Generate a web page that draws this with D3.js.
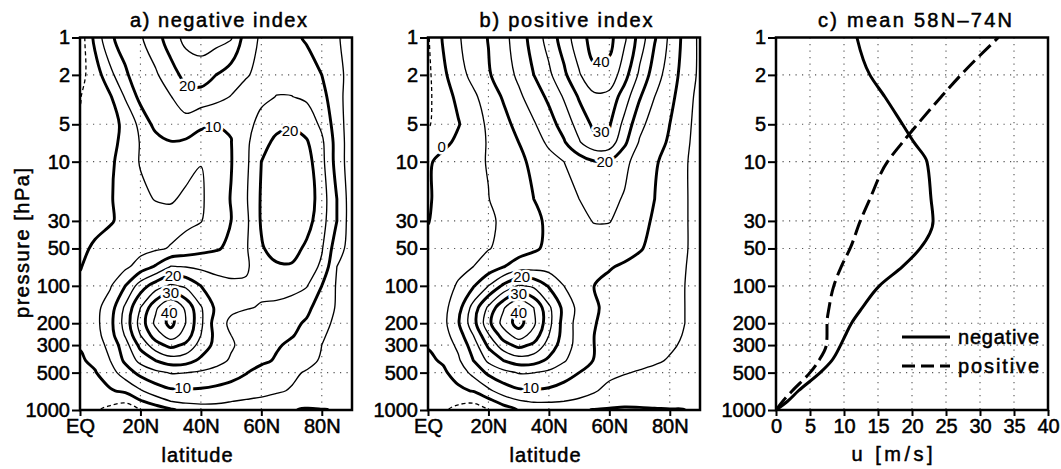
<!DOCTYPE html>
<html>
<head>
<meta charset="utf-8">
<script src="https://cdn.jsdelivr.net/npm/d3@7/dist/d3.min.js"></script>
<style>
html,body{margin:0;padding:0;background:#fff;}
svg text{font-family:"Liberation Sans",Arial,Helvetica,sans-serif;fill:#000;}
</style>
</head>
<body>
<svg id="chart" width="1061" height="469" viewBox="0 0 1061 469"></svg>
<script>
// ---------------- data ----------------
const latitudes = [0,5,10,15,20,25,30,35,40,45,50,55,60,65,70,75,80,85,90];
const pressureLevels = [1000,850,700,500,400,300,250,200,150,100,70,50,30,20,10,7,5,3,2,1];

// zonal-mean zonal wind [m/s], one row per pressure level (1000 hPa first), one column per latitude
const uNegativeIndex = [
  [-3,-4.5,-6,-7,-5.3,-3,-0.7,1.5,2.5,3,3,2.5,2,1,0.5,-0.8,-0.3,0.4,1],
  [-2,-3,-4,-4.5,-0.5,2.5,5,6,6.2,5.8,5.1,4.5,4,3.5,3,3,3,3,2.5],
  [-2.5,-2,-0.5,1,4.5,7.5,9.3,9.4,9.3,8.7,8,7.3,6.5,5.5,4.7,4.2,3.5,3.2,3],
  [-1.2,-0.3,3,7.5,11.5,13.8,15.3,15.1,14.3,13.5,12,10.2,8.2,6.9,5.8,4.6,4,3.5,3],
  [-0.6,1,5,11,16.5,20,22.5,22,19,16.5,14.5,12.5,11,9.5,8,6.3,4.5,4,3.5],
  [0.3,2.5,6.5,13,21.5,28,31.5,29,23,18.5,15.5,13.5,12,10.5,9.2,7.5,5,4,3.6],
  [1,3,8,15.5,25,32.5,37.5,33,25,18.5,15,13.5,12.5,11.5,10.3,8.7,5.3,4.2,3.8],
  [2,3.5,8.5,17,27,36.2,41.5,35,26,17.5,14,13.5,13,12.3,11,9.5,6,4.3,3.8],
  [1.5,3.5,7.5,16,25,34,40.5,34,25.5,19,16,15.2,14.8,14.5,14,11,8,4.5,4],
  [0.8,2.5,4.5,10,17.5,22.5,25.8,24,20,17,15.8,15.5,15.6,16,15.8,15.3,10,4.5,4],
  [-0.2,1.5,3,4,7,10.5,15.2,14.8,14,13.5,13.7,14.5,17,19.3,19.5,18,14,5,3.5],
  [-1.5,1,2.5,3,3.5,4.3,5.3,7,8.5,9.5,11,14.5,19.5,22,22,19,15.5,7,3],
  [-2.5,-2,-0.5,1.5,2.5,3,3.3,3.8,4.8,7.5,10,14,20.5,23.5,24,22,17,10,2],
  [-3,-1.8,-0.4,2,4,5.2,5.5,4.2,4.3,7.5,10.2,14.5,20.5,24,25,23,17.5,10,2],
  [-3.5,-3,-1,2.5,5.3,6.8,7.5,6.5,5.1,7.5,9.8,14,20,23.5,24,22,16.5,8,2],
  [-4,-3.5,-1.5,1.5,5.3,8,9.8,9.3,8.8,9,9.9,14,18.5,21,21.5,20.5,16,8,2],
  [-4.5,-4,-1.5,1,6.5,11.5,12.5,13,10.5,10.1,10.3,13.5,16.5,18.8,19.5,18,14,7.5,2],
  [-5.2,-2.5,-0.5,5.5,11.5,13.5,14.8,18,18,16.5,14.8,13.5,14,15.1,15.1,14.2,11.5,7,2],
  [-6.5,-2.5,3.5,9.5,12,14.3,18,21.5,22.5,20,17.5,15.3,14,13.8,13.2,12,10,7,2.5],
  [-8,1.5,9.5,11.5,14.5,18,22.5,26.5,27.5,27,25.5,17.5,14.3,12.8,11,9.5,8,5.5,3]
];
const uPositiveIndex = [
  [-3,-4.5,-6,-6.7,-5.2,-2.5,0.3,1,1.3,1.2,0.6,-0.2,-0.5,-0.8,-0.5,-0.3,-0.2,0,0.5],
  [-2,-3,-4.3,-4.5,-1.5,2,4.5,5.5,5.5,5,4,3,2,1.5,1.2,1.2,1.5,1.5,1.5],
  [-2.5,-2,-1,0.3,4,7.5,9.3,9.5,9.2,8.2,7.5,5.5,3.5,2.5,2,2,2.2,2.3,2.3],
  [-1.5,-0.8,2,6.5,11,13.5,15.3,15.1,14,12,10,8,6.3,5.3,4.6,4.1,3.6,3.2,3],
  [-0.8,0.5,4.2,10,16,20,22.5,22,19,15.5,12,9.8,8,7,6.3,5.5,4.7,4,3.3],
  [0.3,2.3,6,12.5,21,28,31.5,29,23,17.5,13,10,8.6,7.8,7.3,6.5,5.5,4.5,3.5],
  [1,3,7.5,15,24.5,32.5,37.5,33,25,18,13,10,8.7,8,7.5,6.8,5.8,4.8,3.8],
  [2,3.5,9.5,18,28.5,37,42,36,26.5,18,13,10.2,8.8,8,7.5,7,6,5,3.8],
  [1.5,3.5,8,17,26,34.5,40.5,35,26,18.5,13.5,10.5,9,8,7.5,7,6,5,3.5],
  [1,3,5.5,9.5,15,21,25.5,24,19.5,15,12,10,9,8.5,8,7.3,6.3,5,3.5],
  [1.5,2.8,3.8,5,7,9.8,12.5,13,13,12.5,12,11.3,10.3,9.5,8.8,8,6.8,5.2,3],
  [1.5,2.5,3.3,4,4.8,6,7.5,9.3,11,12.2,13,13,12.5,11.5,10.3,9,7.5,5.5,3],
  [-0.2,2,3,3.8,4.5,5.5,7.2,9,10.8,12.5,14,15.2,15.2,13.5,11.2,9.5,7.8,5.5,3],
  [-0.5,1.5,3,4,4.9,6.5,8.3,10,11.8,13.5,15,16.5,16.5,14.5,12,10,8,5.5,3],
  [-0.7,1.5,3,4.2,5.2,7,9,11,13,15,17.5,19.7,19.6,16.5,12.5,10.5,8.5,5.5,3],
  [-3.5,-1.2,1,3.5,5.3,7.5,10,12.5,16,19.5,24.5,28.5,28,21,14.5,11.5,9.5,6,3],
  [-5.5,-2.5,-0.3,2.8,5.8,8.5,11.5,14.5,18,22,27,31,30.5,23.5,16.5,12.5,10,6.5,3],
  [-6,-2,1,4,7.5,10.5,14,17.5,21,25.5,30.5,34,33.5,27.5,20.5,15,11.5,7,3.5],
  [-6,-1,3,6.5,9.5,12.5,16,20,24,29,34.5,39,38.5,32,24,17.5,12.5,8,4],
  [-5.5,0.5,4.5,7.5,10.2,13.5,17.5,22,27,32.5,38,42,41.5,36,28,20.5,14,8.5,4]
];
const contourLevels = [-5,0,5,10,15,20,25,30,35,40];

const pressureTicks = [1,2,5,10,30,50,100,200,300,500,1000];
const pressureGrid = [2,5,10,30,50,100,200,300,500];
const latitudeTicks = [0,20,40,60,80];
const latitudeTickLabels = ["EQ","20N","40N","60N","80N"];
const windTicks = [0,5,10,15,20,25,30,35,40];

// panel c: mean 58N-74N profiles
const profilePressure = [1000,850,700,500,400,300,250,200,150,100,70,50,30,20,10,7,5,3,2,1];
const profileNegative = [0,1.7,3.3,6.5,8.2,9.5,10.2,11.1,12.7,15.2,18.6,21.2,23.1,22.8,22.2,20.3,18.6,16.0,13.8,11.9];
const profilePositive = [0,1,2.4,5,6.3,7.4,7.5,7.5,7.8,8.5,9.6,10.9,12.4,13.8,16.4,18.6,20.8,24.3,27.2,32.7];
const seriesNames = ["negative","positive"];

// contour labels (value, latitude, pressure)
const labelsNegative = [
  {value:20, lat:35.5, p:2.45},
  {value:10, lat:44, p:5.2},
  {value:20, lat:69.5, p:5.6},
  {value:20, lat:30.8, p:83},
  {value:30, lat:30, p:113},
  {value:40, lat:29.5, p:165},
  {value:10, lat:34, p:660}
];
const labelsPositive = [
  {value:40, lat:57.3, p:1.55},
  {value:30, lat:57.3, p:5.75},
  {value:20, lat:58.5, p:9.9},
  {value:0, lat:4.5, p:7.6},
  {value:20, lat:31, p:84},
  {value:30, lat:30, p:115},
  {value:40, lat:30, p:165},
  {value:10, lat:34, p:665}
];
const titles = ["a) negative index","b) positive index","c) mean 58N\u201374N"];

// ---------------- drawing ----------------
const FONT = '"Liberation Sans", Arial, Helvetica, sans-serif';
const svg = d3.select("#chart");
const plotTop = 37.5, plotBottom = 410;
const panelX = [[80,352],[428,700],[776,1048]];
const yScale = d3.scaleLog().domain([1000,1]).range([plotBottom, plotTop]);

const defs = svg.append("defs");
const layers = {
  grid: svg.append("g"),
  data: svg.append("g"),
  labels: svg.append("g"),
  frame: svg.append("g"),
  text: svg.append("g")
};

function addClip(id, x0, x1) {
  defs.append("clipPath").attr("id", id).append("rect")
    .attr("x", x0).attr("y", plotTop).attr("width", x1 - x0).attr("height", plotBottom - plotTop);
}

function drawGrid(x0, x1, xScale, xGridVals) {
  const g = layers.grid;
  xGridVals.forEach(v => g.append("line")
    .attr("x1", xScale(v)).attr("x2", xScale(v)).attr("y1", plotTop).attr("y2", plotBottom)
    .attr("stroke", "#555").attr("stroke-width", 1.1).attr("stroke-dasharray", "1.2,5.3"));
  pressureGrid.forEach(p => g.append("line")
    .attr("x1", x0).attr("x2", x1).attr("y1", yScale(p)).attr("y2", yScale(p))
    .attr("stroke", "#555").attr("stroke-width", 1.1).attr("stroke-dasharray", "1.2,5.3"));
}

function drawFrame(x0, x1, xScale, xTickVals, xTickFmt) {
  const g = layers.frame;
  const ay = g.append("g").attr("transform", `translate(${x0},0)`)
    .call(d3.axisLeft(yScale).tickValues(pressureTicks).tickFormat(d3.format("d")).tickSize(8).tickPadding(2));
  const ax = g.append("g").attr("transform", `translate(0,${plotBottom})`)
    .call(d3.axisBottom(xScale).tickValues(xTickVals).tickFormat(xTickFmt).tickSize(6).tickPadding(3));
  [ay, ax].forEach(a => {
    a.select(".domain").remove();
    a.selectAll(".tick line").attr("stroke", "#000").attr("stroke-width", 2);
    a.selectAll(".tick text").attr("font-family", FONT).attr("font-size", 20)
      .attr("fill", "#000").attr("stroke", "#000").attr("stroke-width", 0.5);
  });
  g.append("rect").attr("x", x0).attr("y", plotTop).attr("width", x1 - x0).attr("height", plotBottom - plotTop)
    .attr("fill", "none").attr("stroke", "#000").attr("stroke-width", 2.5);
}

function addText(x, y, str, len, size, extra) {
  const t = layers.text.append("text").attr("x", x).attr("y", y)
    .attr("text-anchor", "middle").attr("font-size", size).attr("font-family", FONT)
    .attr("stroke", "#000").attr("stroke-width", 0.5).text(str);
  if (len) t.attr("textLength", len).attr("lengthAdjust", "spacing");
  if (extra) extra(t);
  return t;
}

function drawContourPanel(idx, grid, labels) {
  const [x0, x1] = panelX[idx];
  const xScale = d3.scaleLinear().domain([0, 90]).range([x0, x1]);
  drawGrid(x0, x1, xScale, latitudeTicks.slice(1));

  const nx = latitudes.length, ny = pressureLevels.length;
  const NX = nx + 2, NY = ny + 2;
  const vals = new Array(NX * NY);
  for (let j = 0; j < NY; j++) {
    const jj = Math.min(ny - 1, Math.max(0, j - 1));
    for (let i = 0; i < NX; i++) {
      const ii = Math.min(nx - 1, Math.max(0, i - 1));
      vals[i + j * NX] = grid[jj][ii];
    }
  }
  const logP = pressureLevels.map(Math.log10);
  const interp = (arr, t) => {
    const n = arr.length;
    const i0 = Math.max(0, Math.min(n - 2, Math.floor(t)));
    return arr[i0] + (t - i0) * (arr[i0 + 1] - arr[i0]);
  };
  const toX = gx => xScale(interp(latitudes, gx - 1.5));
  const toY = gy => yScale(Math.pow(10, interp(logP, gy - 1.5)));

  const clipId = "clip" + idx;
  addClip(clipId, x0, x1);
  const g = layers.data.append("g").attr("clip-path", `url(#${clipId})`);
  const line = d3.line().x(d => toX(d[0])).y(d => toY(d[1])).curve(d3.curveCatmullRomClosed.alpha(0.5));
  const contours = d3.contours().size([NX, NY]).thresholds(contourLevels)(vals);
  contours.forEach(c => {
    const v = c.value;
    const w = v < 0 ? 1.3 : (v % 10 === 0 ? 2.9 : 1.35);
    const dash = v < 0 ? "4,3" : null;
    c.coordinates.forEach(poly => poly.forEach(ring => {
      const pts = ring.slice(0, -1);
      if (pts.length < 3) return;
      g.append("path").attr("d", line(pts)).attr("fill", "none").attr("stroke", "#000")
        .attr("stroke-width", w).attr("stroke-dasharray", dash).attr("stroke-linejoin", "round");
    }));
  });

  labels.forEach(l => {
    layers.labels.append("text").attr("x", xScale(l.lat)).attr("y", yScale(l.p)).attr("dy", "0.36em")
      .attr("text-anchor", "middle").attr("font-size", 15).attr("font-family", FONT)
      .attr("fill", "#000").attr("stroke", "#fff").attr("stroke-width", 5)
      .attr("stroke-linejoin", "round").attr("paint-order", "stroke")
      .text(l.value);
  });

  drawFrame(x0, x1, xScale, latitudeTicks, (d, i) => latitudeTickLabels[i]);
}

drawContourPanel(0, uNegativeIndex, labelsNegative);
drawContourPanel(1, uPositiveIndex, labelsPositive);

// panel c
(function () {
  const [x0, x1] = panelX[2];
  const xScale = d3.scaleLinear().domain([0, 40]).range([x0, x1]);
  drawGrid(x0, x1, xScale, windTicks.slice(1, -1));
  addClip("clip2", x0, x1);
  const g = layers.data.append("g").attr("clip-path", "url(#clip2)");
  const line = d3.line().x(d => xScale(d.u)).y(d => yScale(d.p)).curve(d3.curveMonotoneY);
  const neg = profilePressure.map((p, i) => ({p, u: profileNegative[i]}));
  const pos = profilePressure.map((p, i) => ({p, u: profilePositive[i]}));
  g.append("path").attr("d", line(neg)).attr("fill", "none").attr("stroke", "#000").attr("stroke-width", 3);
  g.append("path").attr("d", line(pos)).attr("fill", "none").attr("stroke", "#000").attr("stroke-width", 3)
    .attr("stroke-dasharray", "16,6");
  // legend
  const lg = layers.frame.append("g");
  [[337, null], [366, "13,6"]].forEach((d, i) => {
    lg.append("line").attr("x1", 902).attr("x2", 950).attr("y1", d[0]).attr("y2", d[0])
      .attr("stroke", "#000").attr("stroke-width", 3).attr("stroke-dasharray", d[1]);
    lg.append("text").attr("x", 958).attr("y", d[0] + 7).attr("font-size", 20).attr("font-family", FONT)
      .attr("stroke", "#000").attr("stroke-width", 0.5).attr("textLength", 81).attr("lengthAdjust", "spacing")
      .text(seriesNames[i]);
  });
  drawFrame(x0, x1, xScale, windTicks, d3.format("d"));
})();

// titles and axis titles
addText(218.5, 27, titles[0], 177, 20);
addText(566, 27, titles[1], 173, 20);
addText(915, 27, titles[2], 194, 20);
addText(197, 462, "latitude", 71, 20);
addText(545, 462, "latitude", 71, 20);
addText(892, 461, "u [m/s]", 81, 20);
addText(0, 0, "pressure [hPa]", 150, 20, t => t.attr("transform", "translate(29,243) rotate(-90)"));
</script>
</body>
</html>
